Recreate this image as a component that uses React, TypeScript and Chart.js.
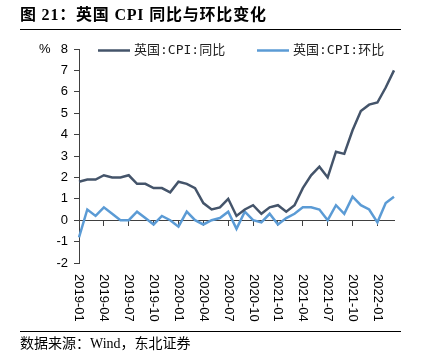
import React, { useEffect, useRef } from "react";
import { Chart, registerables } from "chart.js";

Chart.register(...registerables);

const months: string[] = [
  "2019-01", "2019-02", "2019-03", "2019-04", "2019-05", "2019-06", "2019-07", "2019-08", "2019-09", "2019-10", "2019-11", "2019-12",
  "2020-01", "2020-02", "2020-03", "2020-04", "2020-05", "2020-06", "2020-07", "2020-08", "2020-09", "2020-10", "2020-11", "2020-12",
  "2021-01", "2021-02", "2021-03", "2021-04", "2021-05", "2021-06", "2021-07", "2021-08", "2021-09", "2021-10", "2021-11", "2021-12",
  "2022-01", "2022-02", "2022-03",
];

const yoy: number[] = [
  1.8, 1.9, 1.9, 2.1, 2.0, 2.0, 2.1, 1.7, 1.7, 1.5, 1.5, 1.3,
  1.8, 1.7, 1.5, 0.8, 0.5, 0.6, 1.0, 0.2, 0.5, 0.7, 0.3, 0.6,
  0.7, 0.4, 0.7, 1.5, 2.1, 2.5, 2.0, 3.2, 3.1, 4.2, 5.1, 5.4,
  5.5, 6.2, 7.0,
];

const mom: number[] = [
  -0.8, 0.5, 0.2, 0.6, 0.3, 0.0, 0.0, 0.4, 0.1, -0.2, 0.2, 0.0,
  -0.3, 0.4, 0.0, -0.2, 0.0, 0.1, 0.4, -0.4, 0.4, 0.0, -0.1, 0.3,
  -0.2, 0.1, 0.3, 0.6, 0.6, 0.5, 0.0, 0.7, 0.3, 1.1, 0.7, 0.5,
  -0.1, 0.8, 1.1,
];

const xTickLabels: string[] = [
  "2019-01", "2019-04", "2019-07", "2019-10", "2020-01", "2020-04", "2020-07",
  "2020-10", "2021-01", "2021-04", "2021-07", "2021-10", "2022-01",
];

const seriesNames: string[] = ["英国:CPI:同比", "英国:CPI:环比"];
const title = "图 21：英国 CPI 同比与环比变化";
const source = "数据来源：Wind，东北证券";

const COLORS = ["#44546A", "#5B9BD5"];
const AXIS = "#404040";

const decorPlugin = {
  id: "decor",
  afterDraw(chart: any) {
    const ctx = chart.ctx as CanvasRenderingContext2D;
    const xs = chart.scales.x;
    ctx.save();
    // title
    ctx.fillStyle = "#000";
    ctx.font = 'bold 16px "Liberation Serif", "Noto Sans CJK SC"';
    ctx.textAlign = "left";
    ctx.textBaseline = "middle";
    (ctx as any).letterSpacing = "0.8px";
    ctx.fillText(title, 20, 16);
    (ctx as any).letterSpacing = "0px";
    ctx.strokeStyle = "#000";
    ctx.lineWidth = 1;
    ctx.beginPath();
    ctx.moveTo(20, 29.5);
    ctx.lineTo(401, 29.5);
    ctx.stroke();
    // footer
    ctx.beginPath();
    ctx.moveTo(20, 331.5);
    ctx.lineTo(401, 331.5);
    ctx.stroke();
    ctx.font = '14px "Liberation Serif", "Noto Sans CJK SC"';
    ctx.fillStyle = "#000";
    ctx.fillText(source, 20, 344);
    // percent unit
    ctx.font = '13px "Liberation Sans"';
    ctx.fillStyle = "#000";
    ctx.textAlign = "left";
    ctx.fillText("%", 39, 49);
    // legend
    const legendX = [98, 257];
    ctx.font = '13px "DejaVu Sans Mono", "Noto Sans CJK SC"';
    seriesNames.forEach((name, i) => {
      const lx = legendX[i];
      ctx.strokeStyle = COLORS[i];
      ctx.lineWidth = 2.5;
      ctx.beginPath();
      ctx.moveTo(lx, 50.5);
      ctx.lineTo(lx + 32, 50.5);
      ctx.stroke();
      ctx.fillStyle = "#222";
      ctx.textAlign = "left";
      ctx.textBaseline = "middle";
      ctx.fillText(name, lx + 36, 51);
    });
    // x tick labels, rotated
    ctx.font = '13px "Liberation Sans"';
    ctx.fillStyle = "#000";
    xTickLabels.forEach((lab) => {
      const idx = months.indexOf(lab);
      if (idx < 0) return;
      const x = xs.getPixelForValue(idx);
      ctx.save();
      ctx.translate(x, 274);
      ctx.rotate(Math.PI / 2);
      ctx.textAlign = "left";
      ctx.textBaseline = "middle";
      ctx.fillText(lab, 0, 0);
      ctx.restore();
    });
    ctx.restore();
  },
};

export default function App() {
  const ref = useRef<HTMLCanvasElement | null>(null);
  useEffect(() => {
    if (!ref.current) return;
    const chart = new Chart(ref.current, {
      type: "line",
      data: {
        labels: months,
        datasets: [
          {
            label: seriesNames[0],
            data: yoy,
            borderColor: COLORS[0],
            backgroundColor: COLORS[0],
            borderWidth: 2.5,
            pointRadius: 0,
            tension: 0,
          },
          {
            label: seriesNames[1],
            data: mom,
            borderColor: COLORS[1],
            backgroundColor: COLORS[1],
            borderWidth: 2.5,
            pointRadius: 0,
            tension: 0,
          },
        ],
      },
      options: {
        animation: false,
        responsive: false,
        layout: { padding: { top: 49, right: 30, bottom: 100, left: 0 } },
        plugins: {
          legend: { display: false },
          tooltip: { enabled: false },
          title: { display: false },
        },
        scales: {
          x: {
            type: "category",
            position: { y: 0 } as any,
            offset: false,
            ticks: { display: false, autoSkip: false },
            grid: {
              display: true,
              drawOnChartArea: false,
              drawTicks: true,
              tickLength: 5,
              tickColor: (c: any) => (c.index % 3 === 0 ? AXIS : "rgba(0,0,0,0)"),
            },
            border: { display: true, color: AXIS, width: 1 },
          },
          y: {
            min: -2,
            max: 8,
            afterFit: (scale: any) => {
              scale.width = 79;
            },
            ticks: {
              stepSize: 1,
              color: "#000",
              font: { family: "Liberation Sans", size: 13 },
              padding: 6,
            },
            grid: {
              display: true,
              drawOnChartArea: false,
              drawTicks: true,
              tickLength: 5,
              tickColor: AXIS,
            },
            border: { display: true, color: AXIS, width: 1 },
          },
        },
      },
      plugins: [decorPlugin],
    });
    return () => chart.destroy();
  }, []);
  return (
    <div style={{ position: "absolute", left: 0, top: 0, width: 424, height: 363, background: "#fff" }}>
      <canvas ref={ref} width={424} height={363} style={{ display: "block" }} />
    </div>
  );
}
